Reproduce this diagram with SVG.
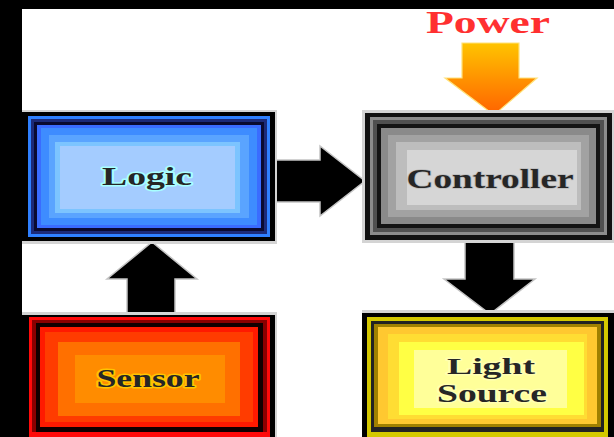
<svg xmlns="http://www.w3.org/2000/svg" width="614" height="437" viewBox="0 0 614 437">
<defs>
<linearGradient id="pwr" x1="0" y1="0" x2="0" y2="1">
<stop offset="0" stop-color="#ffc400"/>
<stop offset="0.5" stop-color="#ff9200"/>
<stop offset="1" stop-color="#ff6200"/>
</linearGradient>
<style>
.lbl{font-family:"Liberation Serif","DejaVu Serif",serif;font-weight:bold;text-anchor:middle;fill:#262626;paint-order:stroke;stroke-linejoin:round}
.arrow{fill:#000;stroke:#c4c4c4;stroke-width:1.5}
.shadow{fill:#d4d4d4}
</style>
</defs>
<rect x="0" y="0" width="614" height="437" fill="#fff"/>
<rect x="0" y="0" width="614" height="9" fill="#000"/>
<rect x="0" y="0" width="22" height="437" fill="#000"/>

<g id="connectors">
<polygon class="arrow" points="275,160 320,160 320,146 365,181 320,216 320,202 275,202"/>
<polygon class="arrow" points="127,315 127,279 107,279 152,242 197,279 175,279 175,315"/>
<polygon class="arrow" points="465,240 514,240 514,279 535,279 490,314 444,279 465,279"/>
<polygon fill="url(#pwr)" stroke="#ffe27a" stroke-width="1.2" points="462,43 519,43 519,78 537,78 494,115 445,78 462,78"/>
</g>

<g id="power">
<text x="488" y="33" font-family="'Liberation Serif','DejaVu Serif',serif" font-weight="bold" font-size="32" fill="#ff3030" text-anchor="middle" textLength="124" lengthAdjust="spacingAndGlyphs">Power</text>
</g>

<g id="logic">
<rect class="shadow" x="22" y="110" width="255" height="134"/>
<rect x="22" y="112" width="253" height="129" fill="#000"/>
<rect x="28" y="116" width="242" height="121" fill="#2f80ff"/>
<rect x="31" y="119" width="236" height="115" fill="#1c2a78"/>
<rect x="34" y="122" width="230" height="109" fill="#0a0a30"/>
<rect x="37" y="125" width="224" height="103" fill="#3a6cff"/>
<rect x="41" y="128" width="216" height="97" fill="#3e8cff"/>
<rect x="49" y="135" width="200" height="83" fill="#5aa4ff"/>
<rect x="55" y="142" width="185" height="71" fill="#7cc4ff"/>
<rect x="60" y="146" width="175" height="63" fill="#a4ccff"/>
<text class="lbl" x="147" y="185" font-size="26" stroke="#a8ffff" stroke-width="3" textLength="90" lengthAdjust="spacingAndGlyphs">Logic</text>
</g>

<g id="controller">
<rect class="shadow" x="362" y="110" width="252" height="133"/>
<rect x="365" y="113" width="247" height="127" fill="#111"/>
<rect x="370" y="117" width="237" height="118" fill="#8c8c8c"/>
<rect x="373" y="120" width="231" height="112" fill="#505050"/>
<rect x="377" y="124" width="223" height="104" fill="#141414"/>
<rect x="381" y="128" width="215" height="96" fill="#8a8a8a"/>
<rect x="388" y="135" width="201" height="82" fill="#a2a2a2"/>
<rect x="396" y="142" width="185" height="68" fill="#bdbdbd"/>
<rect x="407" y="150" width="170" height="55" fill="#d6d6d6"/>
<text class="lbl" x="490" y="188" font-size="28" stroke="#bcbcbc" stroke-width="1.5" textLength="167" lengthAdjust="spacingAndGlyphs">Controller</text>
</g>

<g id="sensor">
<rect class="shadow" x="22" y="312" width="255" height="125"/>
<rect x="22" y="315" width="253" height="122" fill="#000"/>
<rect x="29" y="317" width="241" height="120" fill="#ff0a0a"/>
<rect x="32" y="320" width="235" height="112" fill="#8a0000"/>
<rect x="36" y="323" width="227" height="109" fill="#110000"/>
<rect x="40" y="327" width="218" height="100" fill="#ff1a00"/>
<rect x="45" y="332" width="208" height="90" fill="#ff3c00"/>
<rect x="58" y="342" width="182" height="74" fill="#ff7000"/>
<rect x="75" y="355" width="150" height="48" fill="#ff8c00"/>
<text class="lbl" x="148" y="387" font-size="26" stroke="#ffc400" stroke-width="3" textLength="103" lengthAdjust="spacingAndGlyphs">Sensor</text>
</g>

<g id="light-source">
<rect class="shadow" x="362" y="310" width="252" height="127"/>
<rect x="362" y="313" width="252" height="124" fill="#000"/>
<rect x="367" y="317" width="241" height="120" fill="#d4c800"/>
<rect x="371" y="321" width="233" height="111" fill="#222"/>
<rect x="374" y="324" width="227" height="103" fill="#a08000"/>
<rect x="378" y="327" width="219" height="97" fill="#ffc830"/>
<rect x="388" y="334" width="199" height="85" fill="#ffdd33"/>
<rect x="399" y="342" width="185" height="73" fill="#ffff44"/>
<rect x="414" y="350" width="153" height="58" fill="#ffff99"/>
<text class="lbl" x="491" y="374" font-size="24" stroke="#ffffb0" stroke-width="3" textLength="88" lengthAdjust="spacingAndGlyphs">Light</text>
<text class="lbl" x="492" y="402" font-size="25" stroke="#ffffb0" stroke-width="3" textLength="110" lengthAdjust="spacingAndGlyphs">Source</text>
</g>
</svg>
